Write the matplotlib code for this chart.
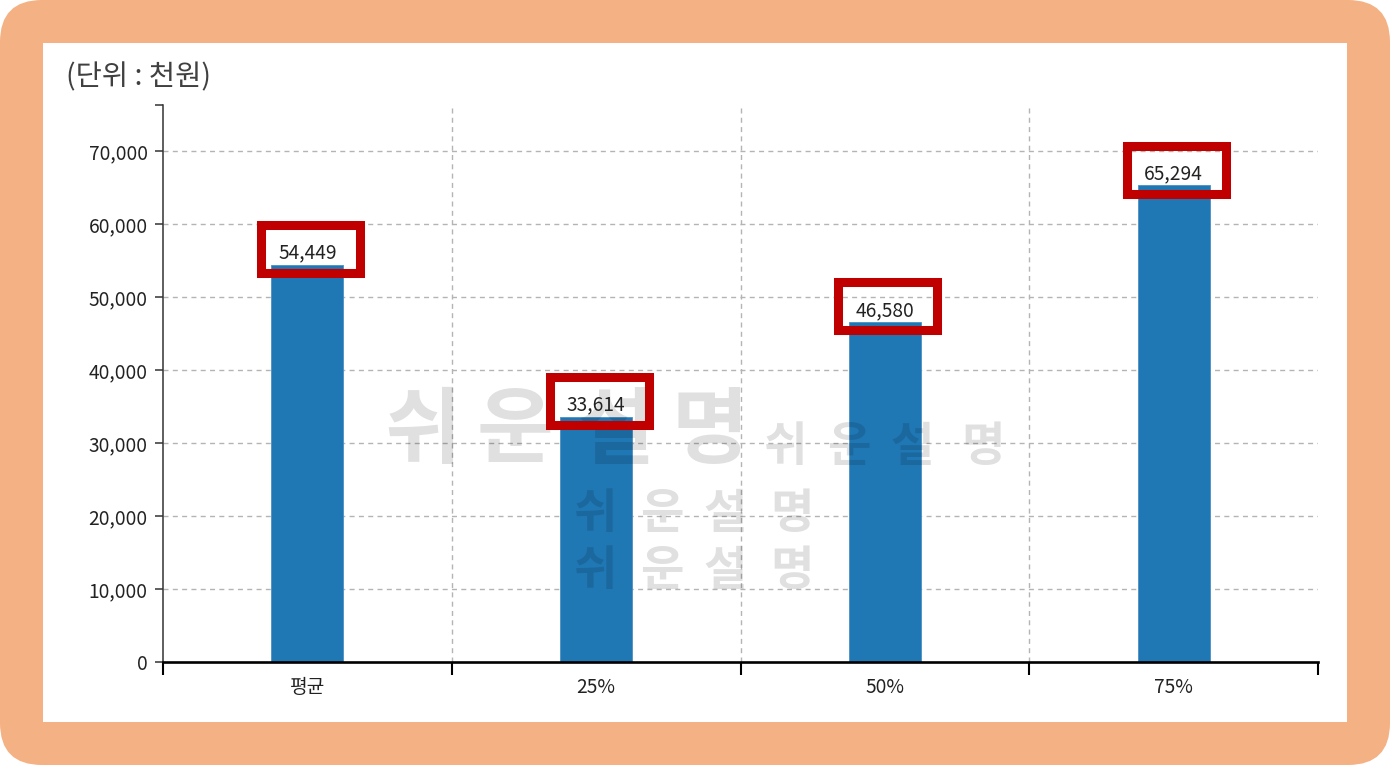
import matplotlib
matplotlib.use('Agg')
import matplotlib.pyplot as plt
from matplotlib.patches import FancyBboxPatch, Rectangle
from matplotlib.transforms import IdentityTransform
from matplotlib.ticker import FixedLocator
import numpy as np

# ---- data ----
categories = ['평균', '25%', '50%', '75%']
values = [54449, 33614, 46580, 65294]
y_ticks = [0, 10000, 20000, 30000, 40000, 50000, 60000, 70000]
y_tick_labels = [f'{v:,}' for v in y_ticks]
unit_label = '(단위 : 천원)'
watermark = '쉬운설명'

plt.rcParams['font.family'] = ['Noto Sans CJK KR', 'DejaVu Sans']

W, H = 1390, 765
fig = plt.figure(figsize=(W / 100, H / 100), dpi=100)
fig.patch.set_facecolor('white')
ident = IdentityTransform()

# orange rounded frame + white panel
frame = FancyBboxPatch((0, 0), W, H, boxstyle='round,pad=0,rounding_size=42',
                       fc='#F4B183', ec='none', transform=ident, zorder=-3)
fig.add_artist(frame)
panel = Rectangle((43, 43), 1304, 679, fc='white', ec='none', transform=ident, zorder=-2)
fig.add_artist(panel)

# axes
L, R, T, B = 163, 1318, 105, 662
ax = fig.add_axes([L / W, (H - B) / H, (R - L) / W, (B - T) / H])
ax.set_facecolor('none')
ytop = 76300
ax.set_xlim(-0.5, len(categories) - 0.5)
ax.set_ylim(0, ytop)
ax.autoscale(False)

for s in ['top', 'right']:
    ax.spines[s].set_visible(False)
ax.spines['left'].set_color('#333333')
ax.spines['left'].set_linewidth(1.1)
ax.spines['bottom'].set_color('black')
ax.spines['bottom'].set_linewidth(1.9)

fs = 13.8
# y ticks
ax.set_yticks(y_ticks)
ax.set_yticklabels(y_tick_labels)
ax.yaxis.set_minor_locator(FixedLocator([ytop]))
ax.tick_params(axis='y', which='both', length=5.5, width=1.1, color='#333333',
               labelsize=fs, labelcolor='#222222', pad=5.5)
# x ticks at band edges, labels at band centres
edges = np.arange(-0.5, len(categories), 1.0)
ax.set_xticks(edges)
ax.set_xticklabels([''] * len(edges))
ax.set_xticks(np.arange(len(categories)), minor=True)
ax.set_xticklabels(categories, minor=True)
ax.tick_params(axis='x', which='major', length=9, width=1.5, color='black')
ax.tick_params(axis='x', which='minor', length=0, labelsize=fs, labelcolor='#222222', pad=11)

# grid
for t in y_ticks[1:]:
    ax.axhline(t, color='#b4b4b4', lw=1, dashes=(3.6, 3.1), zorder=0.5)
for e in edges[1:-1]:
    ax.axvline(e, color='#b4b4b4', lw=1, dashes=(3.6, 3.1), zorder=0.5)

# bars
x = np.arange(len(categories))
ax.bar(x, values, width=0.25, color='#1f77b4', edgecolor='#4a90c4', linewidth=0.6, zorder=1)

# watermark
def wm(chars_x, yc, size):
    for ch, xc in zip(watermark, chars_x):
        ax.text(xc, H - yc, ch, transform=ident, fontsize=size, fontweight='bold',
                color='black', alpha=0.12, ha='center', va='center', zorder=2)

wm([423, 515, 615, 710], 432, 60)
wm([786, 849, 912, 983], 447, 34)
wm([596, 662, 725, 792], 514, 34)
wm([596, 662, 725, 792], 571, 34)

# value labels + red boxes
for i, v in enumerate(values):
    ax.annotate(f'{v:,}', (i, v), xytext=(0, 4.3), textcoords='offset points',
                ha='center', va='baseline', fontsize=fs, color='#222222', zorder=4)
    bx, by = ax.transData.transform((i, v))
    rect = Rectangle((bx - 49.5 + 3, by + 15.5 - 24), 99, 48, transform=ident,
                     fill=False, ec='#C00000', lw=6.5, zorder=3, clip_on=False)
    rect.set_joinstyle('miter')
    ax.add_artist(rect)

# unit title
fig.text(66 / W, 1 - 77 / H, unit_label, fontsize=20.5, fontweight='medium',
         color='#404040', va='center', ha='left')

fig.savefig('out.png', dpi=100)
